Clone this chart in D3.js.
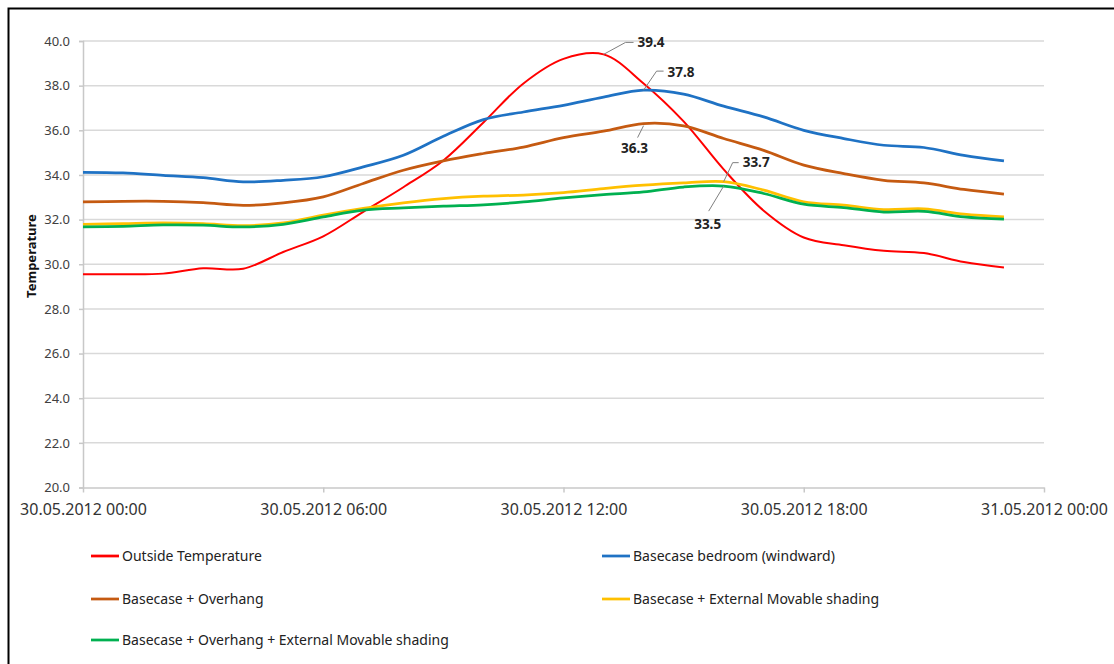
<!DOCTYPE html>
<html>
<head>
<meta charset="utf-8">
<title>Temperature 30.05.2012</title>
<script src="https://d3js.org/d3.v7.min.js"></script>
<style>
  body { margin: 0; background: #fff; }
  text { font-family: "Noto Sans", "Open Sans", sans-serif; }
</style>
</head>
<body>
<div id="chart"></div>
<script>
// hourly readings, 30.05.2012 00:00 .. 23:00
var hours = d3.range(0, 24);
var seriesNames = ["Outside Temperature", "Basecase bedroom (windward)", "Basecase + Overhang",
                   "Basecase + External Movable shading", "Basecase + Overhang + External Movable shading"];
var seriesColors = ["#ff0000", "#1f72c4", "#c55a11", "#ffc000", "#00b050"];

var outside  = [29.55, 29.55, 29.58, 29.82, 29.8, 30.55, 31.25, 32.35, 33.45, 34.65, 36.35, 38.1,
                39.2, 39.4, 38.1, 36.4, 34.25, 32.4, 31.2, 30.85, 30.6, 30.5, 30.1, 29.85];
var bedroom  = [34.12, 34.09, 33.98, 33.88, 33.69, 33.76, 33.92, 34.36, 34.88, 35.73, 36.48, 36.82,
                37.12, 37.49, 37.8, 37.62, 37.08, 36.6, 36.0, 35.63, 35.33, 35.23, 34.88, 34.63];
var overhang = [32.79, 32.82, 32.82, 32.76, 32.64, 32.75, 33.02, 33.62, 34.21, 34.63, 34.96, 35.25,
                35.67, 35.96, 36.3, 36.2, 35.63, 35.1, 34.44, 34.06, 33.76, 33.64, 33.35, 33.14];
var movable  = [31.79, 31.82, 31.85, 31.82, 31.73, 31.85, 32.2, 32.5, 32.75, 32.94, 33.05, 33.1,
                33.21, 33.39, 33.54, 33.64, 33.7, 33.32, 32.8, 32.65, 32.45, 32.48, 32.24, 32.12];
var both     = [31.67, 31.7, 31.76, 31.75, 31.67, 31.79, 32.12, 32.42, 32.52, 32.6, 32.66, 32.79,
                32.97, 33.12, 33.24, 33.46, 33.5, 33.17, 32.69, 32.54, 32.34, 32.37, 32.12, 32.02];
var allSeries = [outside, bedroom, overhang, movable, both];

var yTicks = [20, 22, 24, 26, 28, 30, 32, 34, 36, 38, 40];
var xTickHours = [0, 6, 12, 18, 24];

// callouts: label, series index, hour
var callouts = [
  { text: "39.4", s: 0, h: 13 },
  { text: "37.8", s: 1, h: 14 },
  { text: "36.3", s: 2, h: 14 },
  { text: "33.7", s: 3, h: 16 },
  { text: "33.5", s: 4, h: 16 }
];

var W = 1114, H = 664;
var margin = { top: 41, left: 83 };
var plotW = 961, plotH = 446.5;

var day = function (h) { return new Date(2012, 4, 30, h); };

var svg = d3.select("#chart").append("svg")
  .attr("width", W).attr("height", H);

svg.append("rect")
  .attr("x", 8.5).attr("y", 8.5)
  .attr("width", 1130).attr("height", 700)
  .attr("fill", "#fff").attr("stroke", "#000").attr("stroke-width", 2);

var g = svg.append("g")
  .attr("transform", "translate(" + margin.left + "," + margin.top + ")");

var x = d3.scaleTime().domain([day(0), day(24)]).range([0, plotW]);
var y = d3.scaleLinear().domain([20, 40]).range([plotH, 0]);

// gridlines
g.append("g").selectAll("line")
  .data(yTicks.slice(1))
  .enter().append("line")
  .attr("x1", 0).attr("x2", plotW)
  .attr("y1", function (d) { return y(d); }).attr("y2", function (d) { return y(d); })
  .attr("stroke", "#d9d9d9").attr("stroke-width", 1.5);

var yAxis = g.append("g")
  .call(d3.axisLeft(y).tickValues(yTicks).tickSize(4).tickPadding(9)
    .tickFormat(d3.format(".1f")));
yAxis.select(".domain").attr("stroke", "#c8c8c8").attr("stroke-width", 1.5);
yAxis.selectAll(".tick line").attr("stroke", "#c8c8c8").attr("stroke-width", 1.5);
yAxis.selectAll("text").attr("font-size", 13).attr("fill", "#404040")
  .attr("font-family", "'Noto Sans', sans-serif");

var xAxis = g.append("g")
  .attr("transform", "translate(0," + plotH + ")")
  .call(d3.axisBottom(x).tickValues(xTickHours.map(day)).tickSize(5).tickPadding(11)
    .tickSizeOuter(0).tickFormat(d3.timeFormat("%d.%m.%Y %H:%M")));
xAxis.select(".domain").attr("stroke", "#c8c8c8").attr("stroke-width", 1.5);
xAxis.selectAll(".tick line").attr("stroke", "#c8c8c8").attr("stroke-width", 1.5);
xAxis.selectAll("text").attr("font-size", 16).attr("fill", "#333")
  .attr("font-family", "'Noto Sans', sans-serif");

svg.append("text")
  .attr("transform", "translate(36," + (margin.top + 215) + ") rotate(-90)")
  .attr("text-anchor", "middle")
  .attr("font-size", 13).attr("font-weight", "bold").attr("fill", "#111")
  .text("Temperature");

var line = d3.line()
  .x(function (d, i) { return x(day(hours[i])); })
  .y(function (d) { return y(d); })
  .curve(d3.curveCatmullRom);

g.selectAll(".series")
  .data(allSeries)
  .enter().append("path")
  .attr("class", "series")
  .attr("d", line)
  .attr("fill", "none")
  .attr("stroke", function (d, i) { return seriesColors[i]; })
  .attr("stroke-width", function (d, i) { return i == 0 ? 2 : 2.75; })
  .attr("stroke-linejoin", "round");

// callout leader lines + labels
var leader = [
  { pts: [[0, 0], [22, -12], [30, -12]], tx: 34, ty: -12, anchor: "start" },
  { pts: [[0, 0], [13, -19], [20, -19]], tx: 24, ty: -18, anchor: "start" },
  { pts: [[0, 2], [-6, 14]], tx: -9, ty: 25, anchor: "middle" },
  { pts: [[0, 0], [9, -19], [15, -19]], tx: 19, ty: -19, anchor: "start" },
  { pts: [[0, 0], [-15, 25]], tx: -16, ty: 38, anchor: "middle" }
];

callouts.forEach(function (c, k) {
  var px = x(day(c.h)), py = y(allSeries[c.s][c.h]);
  var L = leader[k];
  g.append("polyline")
    .attr("points", L.pts.map(function (p) { return (px + p[0]) + "," + (py + p[1]); }).join(" "))
    .attr("fill", "none").attr("stroke", "#7f7f7f").attr("stroke-width", 1);
  g.append("text")
    .attr("x", px + L.tx).attr("y", py + L.ty)
    .attr("dy", "0.35em")
    .attr("text-anchor", L.anchor)
    .attr("font-size", 13.5).attr("font-weight", "bold").attr("fill", "#222")
    .text(c.text);
});

// legend, two columns
var legendPos = [[91, 556], [602, 556], [91, 599], [602, 599], [91, 640]];
var lg = svg.append("g").selectAll("g")
  .data(seriesNames)
  .enter().append("g")
  .attr("transform", function (d, i) { return "translate(" + legendPos[i][0] + "," + legendPos[i][1] + ")"; });
lg.append("line")
  .attr("x1", 0).attr("x2", 28)
  .attr("stroke", function (d, i) { return seriesColors[i]; })
  .attr("stroke-width", 2.75);
lg.append("text")
  .attr("x", 31).attr("dy", "0.35em")
  .attr("font-size", 14).attr("fill", "#222")
  .text(function (d) { return d; });
</script>
</body>
</html>
